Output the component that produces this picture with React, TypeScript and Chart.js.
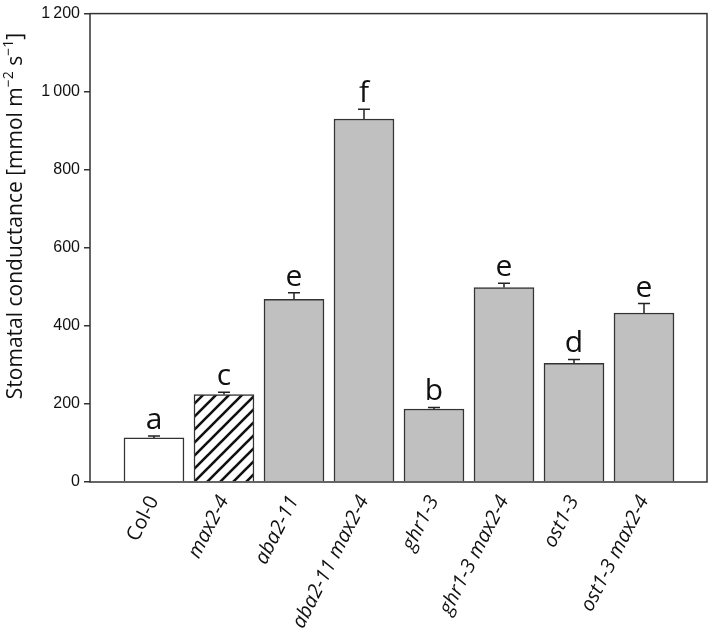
import React, { useEffect, useRef } from "react";
import { Chart, registerables } from "chart.js";

Chart.register(...registerables);

const categories = [
  "Col-0",
  "max2-4",
  "aba2-11",
  "aba2-11 max2-4",
  "ghr1-3",
  "ghr1-3 max2-4",
  "ost1-3",
  "ost1-3 max2-4",
];
const italicLabel = [false, true, true, true, true, true, true, true];
const conductance = [113, 224, 468, 930, 187, 498, 304, 433];
const errors = [5, 6, 17, 25, 4, 11, 10, 24];
const groupLetters = ["a", "c", "e", "f", "b", "e", "d", "e"];
const yTicks = [0, 200, 400, 600, 800, 1000, 1200];

function makeHatch(): CanvasPattern | string {
  const s = 13;
  const c = document.createElement("canvas");
  c.width = s;
  c.height = s;
  const ctx = c.getContext("2d");
  if (!ctx) return "#fff";
  ctx.fillStyle = "#fff";
  ctx.fillRect(0, 0, s, s);
  ctx.strokeStyle = "#111";
  ctx.lineWidth = 2.6;
  ctx.beginPath();
  ctx.moveTo(-2, 2);
  ctx.lineTo(2, -2);
  ctx.moveTo(0, s);
  ctx.lineTo(s, 0);
  ctx.moveTo(s - 2, s + 2);
  ctx.lineTo(s + 2, s - 2);
  ctx.stroke();
  const p = ctx.createPattern(c, "repeat");
  return p || "#fff";
}

const overlayPlugin = {
  id: "overlay",
  afterDatasetsDraw(chart: any) {
    const ctx = chart.ctx;
    const xs = chart.scales.x;
    const ys = chart.scales.y;
    const area = chart.chartArea;
    ctx.save();
    ctx.strokeStyle = "#222";
    ctx.lineWidth = 1.5;
    conductance.forEach((v, i) => {
      const x = xs.getPixelForValue(i);
      const y0 = ys.getPixelForValue(v);
      const y1 = ys.getPixelForValue(v + errors[i]);
      ctx.beginPath();
      ctx.moveTo(x, y0);
      ctx.lineTo(x, y1);
      ctx.moveTo(x - 6, y1);
      ctx.lineTo(x + 6, y1);
      ctx.stroke();
    });
    ctx.fillStyle = "#111";
    ctx.font = "30px 'Open Sans'";
    ctx.textAlign = "center";
    ctx.textBaseline = "alphabetic";
    conductance.forEach((v, i) => {
      const x = xs.getPixelForValue(i);
      const y1 = ys.getPixelForValue(v + errors[i]);
      ctx.fillText(groupLetters[i], x, y1 - 7);
    });
    ctx.strokeStyle = "#333";
    ctx.lineWidth = 1.5;
    ctx.strokeRect(area.left, area.top, area.right - area.left, area.bottom - area.top);
    const parts: [string, boolean][] = [
      ["Stomatal conductance [mmol m", false],
      ["\u22122", true],
      [" s", false],
      ["\u22121", true],
      ["]", false],
    ];
    const mainFont = "21px 'Open Sans'";
    const supFont = "14px 'Open Sans'";
    let total = 0;
    parts.forEach(([t, sup]) => {
      ctx.font = sup ? supFont : mainFont;
      total += ctx.measureText(t).width;
    });
    ctx.translate(22, 216);
    ctx.rotate(-Math.PI / 2);
    ctx.textAlign = "left";
    ctx.textBaseline = "alphabetic";
    ctx.fillStyle = "#111";
    let cx = -total / 2;
    parts.forEach(([t, sup]) => {
      ctx.font = sup ? supFont : mainFont;
      ctx.fillText(t, cx, sup ? -9 : 0);
      cx += ctx.measureText(t).width;
    });
    ctx.restore();
  },
};

export default function App() {
  const ref = useRef<HTMLCanvasElement | null>(null);
  useEffect(() => {
    document.body.style.margin = "0";
    const canvas = ref.current;
    if (!canvas) return;
    const hatch = makeHatch();
    const colors = categories.map((_, i) =>
      i === 0 ? "#ffffff" : i === 1 ? hatch : "#c0c0c0"
    );
    const chart = new Chart(canvas, {
      type: "bar",
      data: {
        datasets: [
          {
            data: conductance.map((v, i) => ({ x: i, y: v })),
            backgroundColor: colors as any,
            borderColor: "#333",
            borderWidth: 1.5,
            barThickness: 60,
          },
        ],
      },
      options: {
        animation: false,
        responsive: false,
        maintainAspectRatio: false,
        layout: { padding: { top: 10, right: 2, left: 0, bottom: 0 } },
        plugins: {
          legend: { display: false },
          tooltip: { enabled: false },
        },
        scales: {
          x: {
            type: "linear",
            offset: false,
            min: -0.914,
            max: 7.9,
            grid: { display: false, offset: false },
            border: { display: false },
            afterBuildTicks: (scale: any) => {
              scale.ticks = categories.map((_, i) => ({ value: i }));
            },
            afterFit: (scale: any) => {
              scale.height = 150;
            },
            ticks: {
              autoSkip: false,
              minRotation: 63,
              maxRotation: 63,
              padding: 2,
              color: "#111",
              font: (ctx: any) => {
                const v = ctx && ctx.tick ? Math.round(ctx.tick.value) : 1;
                return {
                  family: "'Open Sans'",
                  size: 20,
                  style: italicLabel[v] ? "italic" : "normal",
                };
              },
              callback: (_v: any, i: number) => categories[i],
            },
          },
          y: {
            min: 0,
            max: 1200,
            afterBuildTicks: (scale: any) => {
              scale.ticks = yTicks.map((v) => ({ value: v }));
            },
            afterFit: (scale: any) => {
              scale.width = 90;
            },
            grid: {
              drawOnChartArea: false,
              drawTicks: true,
              tickLength: 6,
              color: "#333",
              lineWidth: 1.5,
            },
            border: { display: false },
            ticks: {
              padding: 4,
              color: "#111",
              font: { family: "'Liberation Sans'", size: 16 },
              callback: (v: any) =>
                Number(v) >= 1000
                  ? String(v).slice(0, 1) + "\u2009" + String(v).slice(1)
                  : String(v),
            },
          },
        },
      },
      plugins: [overlayPlugin],
    });
    return () => chart.destroy();
  }, []);
  return (
    <div style={{ position: "absolute", left: 0, top: 0, width: 709, height: 632 }}>
      <canvas ref={ref} width={709} height={632} />
    </div>
  );
}
